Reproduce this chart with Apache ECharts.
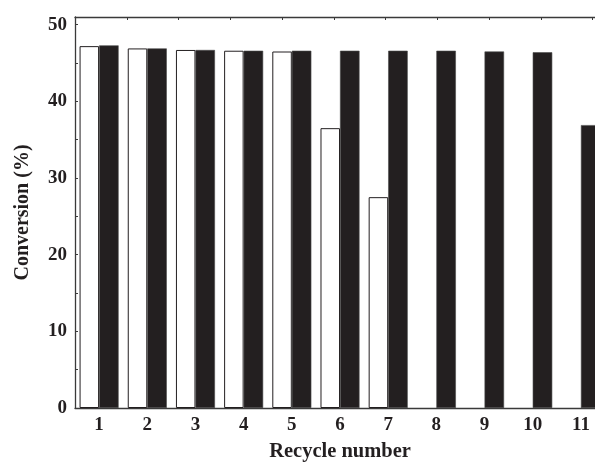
<!DOCTYPE html>
<html>
<head>
<meta charset="utf-8">
<title>Conversion per recycle</title>
<script src="https://cdn.jsdelivr.net/npm/echarts@6/dist/echarts.min.js"></script>
<style>
  html, body { margin: 0; padding: 0; background: #ffffff; }
  #chart { width: 595px; height: 468px; }
</style>
</head>
<body>
<div id="chart"></div>
<script>
// Recycle runs on the x axis
const categories = ['1', '2', '3', '4', '5', '6', '7', '8', '9', '10', '11'];
// Conversion (%) for the two catalysts; '-' marks runs not performed
const whiteSeries = [47.2, 46.9, 46.7, 46.6, 46.5, 36.5, 27.5, '-', '-', '-', '-'];
const blackSeries = [47.3, 46.9, 46.7, 46.6, 46.6, 46.6, 46.6, 46.6, 46.5, 46.4, 36.9];
// Y axis range and tick step
const yMin = 0;
const yMax = 51;
const yStep = 5;

const FONT = '"Liberation Serif", "Times New Roman", serif';
const INK = '#231f20';
const AXIS = '#3a3a3a';

const chart = echarts.init(document.getElementById('chart'), null, { renderer: 'canvas' });

chart.setOption({
  animation: false,
  backgroundColor: '#ffffff',
  // the plot runs past the right edge of the canvas, so the last bar is cut off
  grid: { left: 75, right: -10, top: 17, bottom: 60, containLabel: false, outerBoundsMode: 'none' },
  xAxis: [
    {
      type: 'category',
      data: categories,
      position: 'bottom',
      name: 'Recycle number',
      nameLocation: 'middle',
      nameGap: 33,
      nameTextStyle: { fontFamily: FONT, fontWeight: 'bold', fontSize: 20.5, color: INK },
      axisLine: { show: true, lineStyle: { color: AXIS, width: 1.3 } },
      axisTick: { show: false },
      axisLabel: { fontFamily: FONT, fontWeight: 'bold', fontSize: 19, color: INK, margin: 8 },
      splitLine: { show: false }
    },
    {
      // top frame line with its own evenly spaced inward ticks
      type: 'value',
      position: 'top',
      min: 0,
      max: 10.24,
      interval: 1,
      axisLine: { show: true, onZero: false, lineStyle: { color: AXIS, width: 1.3 } },
      axisTick: { show: true, inside: true, length: 3, lineStyle: { color: AXIS } },
      axisLabel: { show: false },
      splitLine: { show: false }
    }
  ],
  yAxis: {
    type: 'value',
    min: yMin,
    max: yMax,
    interval: yStep,
    name: 'Conversion (%)',
    nameLocation: 'middle',
    nameGap: 42,
    nameTextStyle: { fontFamily: FONT, fontWeight: 'bold', fontSize: 20, color: INK },
    axisLine: { show: true, lineStyle: { color: AXIS, width: 1.3 } },
    axisTick: { show: true, inside: true, length: 3, lineStyle: { color: AXIS } },
    axisLabel: {
      fontFamily: FONT, fontWeight: 'bold', fontSize: 19, color: INK, margin: 8,
      formatter: v => (v % 10 === 0 ? String(v) : '')
    },
    splitLine: { show: false }
  },
  series: [
    {
      type: 'bar',
      xAxisIndex: 0,
      data: whiteSeries,
      barGap: '0%',
      barCategoryGap: '19%',
      itemStyle: { color: '#ffffff', borderColor: INK, borderWidth: 1 }
    },
    {
      type: 'bar',
      xAxisIndex: 0,
      data: blackSeries,
      barGap: '0%',
      barCategoryGap: '19%',
      itemStyle: { color: INK, borderColor: '#4a4a4a', borderWidth: 0.6 }
    }
  ]
});
</script>
</body>
</html>
